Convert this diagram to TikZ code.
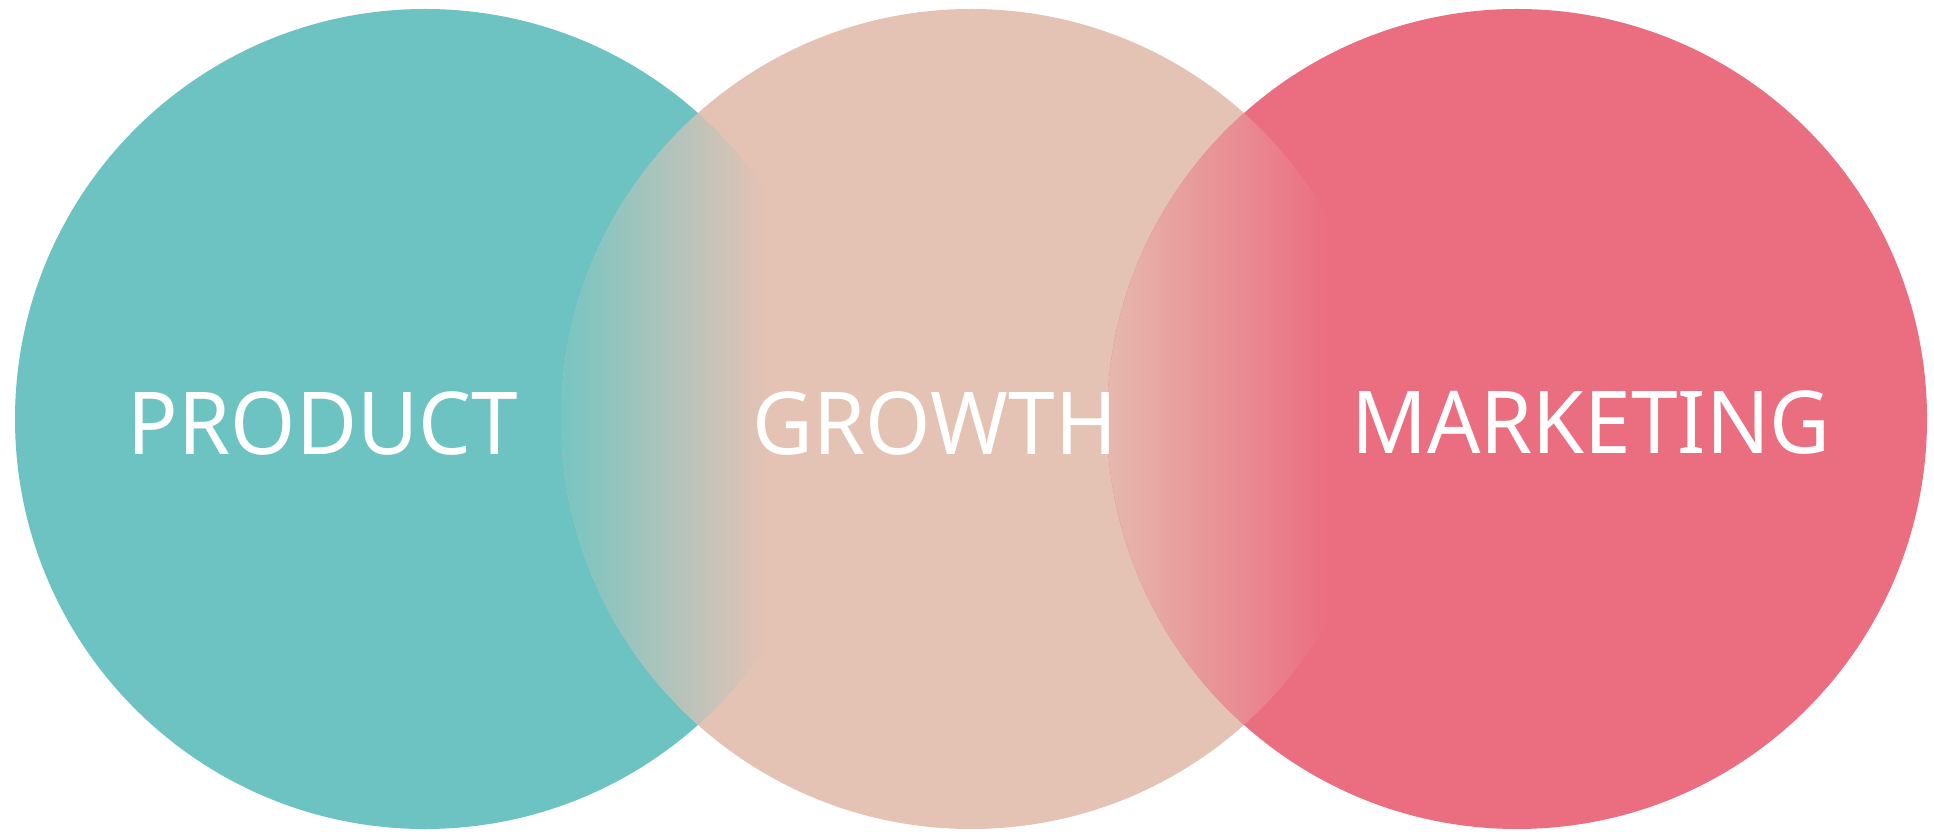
\documentclass[tikz,border=0pt]{standalone}
\usepackage{fontspec}
\setmainfont{Noto Sans}
\definecolor{teal1}{HTML}{6CC3C1}
\definecolor{peach}{HTML}{E4C2B4}
\definecolor{red1}{HTML}{EB6D80}
\definecolor{lensA}{HTML}{76C5C2}
\definecolor{lensB}{HTML}{E6B8AD}
\newcommand{\lbltext}[1]{\scalebox{0.965}[1]{#1}}
\begin{document}
\begin{tikzpicture}[x=1pt,y=-1pt,scale=0.25,
  lbl/.style={text=white,font=\fontsize{21.7}{26}\selectfont,inner sep=0pt,anchor=center}]
\useasboundingbox (0,0) rectangle (1934,832);
\fill[white] (0,0) rectangle (1934,832);
% circles
\fill[teal1] (425,419) circle[radius=410];
\fill[peach] (971,419) circle[radius=410];
\fill[red1] (1517,419) circle[radius=410];
% left lens
\begin{scope}
\clip (425,419) circle[radius=410];
\clip (971,419) circle[radius=410];
\shade[left color=lensA,right color=peach] (561,0) rectangle (765,832);
\fill[peach] (765,0) rectangle (840,832);
\end{scope}
% right lens
\begin{scope}
\clip (971,419) circle[radius=410];
\clip (1517,419) circle[radius=410];
\shade[left color=lensB,right color=red1] (1107,0) rectangle (1330,832);
\fill[red1] (1330,0) rectangle (1390,832);
\end{scope}
\node[lbl] (product) at (323,423) {\lbltext{PRODUCT}};
\node[lbl] (growth) at (935,423) {\lbltext{GROWTH}};
\node[lbl] (marketing) at (1591,423) {\lbltext{MARKETING}};
\end{tikzpicture}
\end{document}
